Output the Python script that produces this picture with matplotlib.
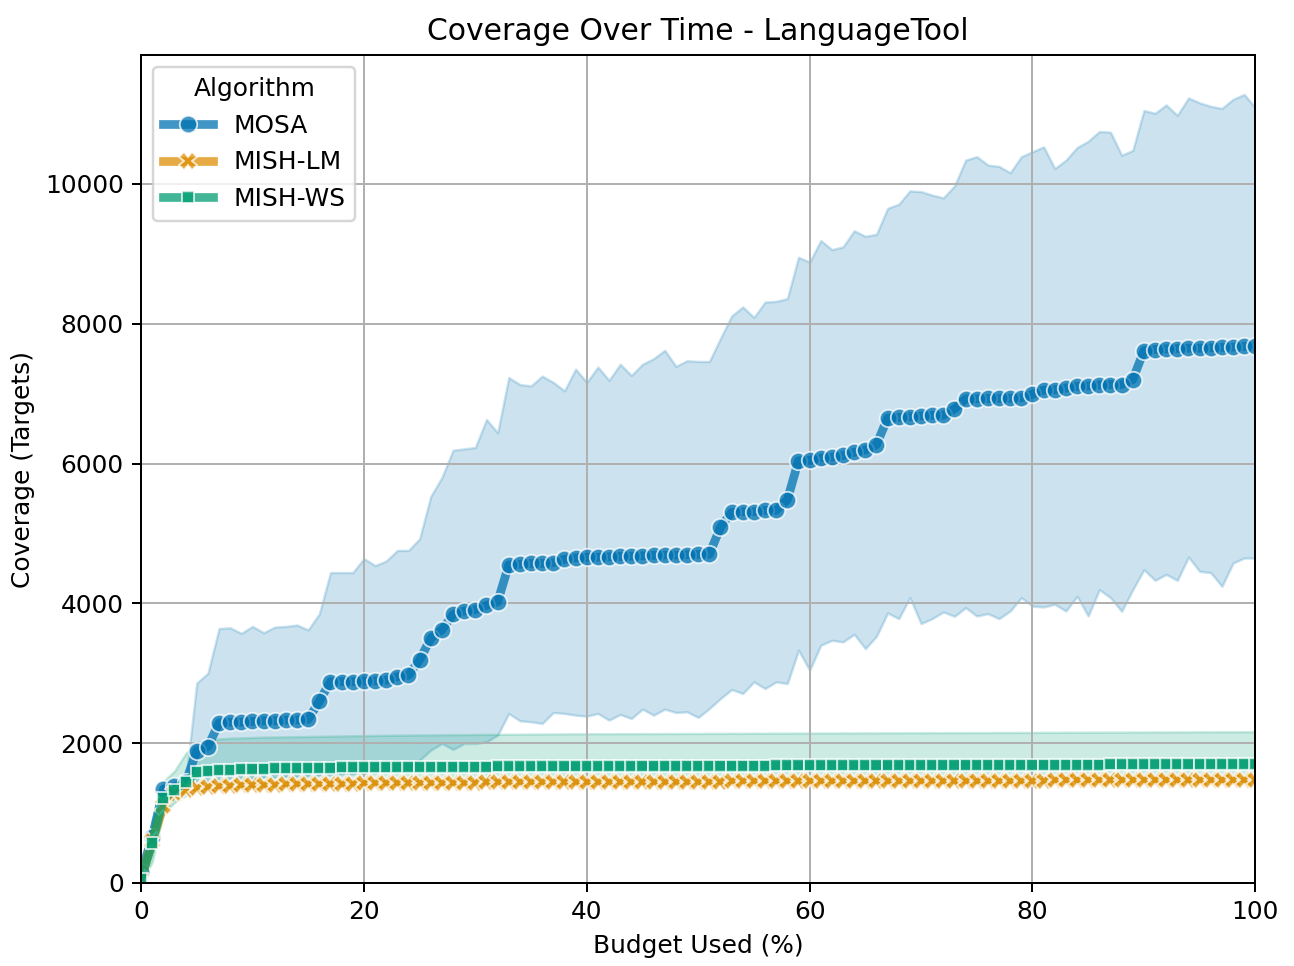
import matplotlib
matplotlib.use("Agg")
import matplotlib.pyplot as plt
import numpy as np

# budget used (%) - one sample per percent
budget = list(range(101))

algorithms = ["MOSA", "MISH-LM", "MISH-WS"]
colors = ["#0173b2", "#de8f05", "#029e73"]
markers = ["o", "X", (4, 0, 45)]

mosa_mean = [150, 650, 1340, 1380, 1440, 1890, 1950, 2290, 2300, 2300,
             2310, 2320, 2320, 2330, 2330, 2340, 2600, 2880, 2880, 2880,
             2890, 2890, 2900, 2950, 2970, 3190, 3500, 3620, 3840, 3890,
             3910, 3970, 4020, 4550, 4560, 4570, 4570, 4580, 4630, 4650,
             4660, 4660, 4665, 4670, 4675, 4680, 4685, 4690, 4690, 4695,
             4700, 4700, 5090, 5300, 5310, 5310, 5330, 5330, 5480, 6040,
             6045, 6080, 6090, 6115, 6160, 6195, 6270, 6650, 6660, 6670,
             6680, 6690, 6690, 6780, 6925, 6925, 6930, 6930, 6935, 6940,
             6990, 7050, 7055, 7080, 7105, 7110, 7125, 7130, 7130, 7200,
             7615, 7630, 7640, 7645, 7650, 7650, 7655, 7660, 7665, 7675, 7680]
mosa_hi = [200, 800, 1400, 1420, 1450, 2860, 3000, 3640, 3650, 3570,
           3670, 3580, 3660, 3670, 3690, 3620, 3850, 4440, 4440, 4440,
           4640, 4540, 4605, 4757, 4757, 4924, 5530, 5800, 6190, 6210,
           6230, 6630, 6440, 7230, 7130, 7110, 7250, 7160, 7040, 7350,
           7160, 7380, 7190, 7420, 7260, 7420, 7500, 7620, 7390, 7470,
           7460, 7460, 7790, 8110, 8240, 8090, 8310, 8320, 8360, 8950,
           8880, 9190, 9060, 9100, 9330, 9250, 9280, 9650, 9710, 9900,
           9890, 9840, 9800, 9970, 10340, 10390, 10270, 10250, 10160, 10390,
           10460, 10530, 10220, 10340, 10520, 10610, 10750, 10740, 10410, 10480,
           11050, 11010, 11130, 10980, 11230, 11160, 11110, 11080, 11210, 11280, 11090]
mosa_lo = [100, 500, 1280, 1340, 1420, 1450, 1460, 1480, 1490, 1500,
           1500, 1510, 1510, 1520, 1520, 1530, 1540, 1550, 1560, 1560,
           1570, 1580, 1600, 1620, 1650, 1757, 1900, 1995, 1910, 1995,
           1995, 2019, 2114, 2424, 2319, 2305, 2281, 2438, 2424, 2400,
           2386, 2424, 2329, 2410, 2352, 2486, 2400, 2486, 2438, 2448,
           2367, 2495, 2638, 2767, 2710, 2876, 2781, 2876, 2852, 3329,
           3043, 3400, 3471, 3448, 3557, 3352, 3529, 3862, 3781, 4081,
           3710, 3781, 3876, 3814, 3938, 3819, 3852, 3781, 3890, 4081,
           3960, 3948, 3986, 3890, 4100, 3819, 4195, 4081, 3886, 4195,
           4481, 4329, 4414, 4329, 4662, 4457, 4438, 4243, 4576, 4648, 4648]

lm_mean = [50, 600, 1100, 1290, 1330, 1360, 1375, 1385, 1390, 1395,
           1400, 1402, 1405, 1408, 1410, 1412, 1415, 1418, 1420, 1422,
           1425, 1426, 1427, 1428, 1430, 1431, 1432, 1433, 1434, 1435,
           1436, 1437, 1438, 1438, 1439, 1440, 1440, 1441, 1442, 1442,
           1443, 1444, 1444, 1445, 1446, 1446, 1447, 1447, 1448, 1448,
           1449, 1450, 1450, 1451, 1451, 1452, 1452, 1453, 1453, 1454,
           1455, 1455, 1456, 1456, 1457, 1457, 1458, 1458, 1459, 1459,
           1460, 1460, 1461, 1461, 1462, 1462, 1463, 1463, 1464, 1464,
           1465, 1465, 1466, 1466, 1466, 1467, 1467, 1467, 1468, 1468,
           1468, 1469, 1469, 1469, 1470, 1470, 1470, 1471, 1471, 1471, 1472]
lm_hi = [120, 750, 1200, 1330, 1360, 1385, 1398, 1408, 1414, 1419,
         1424, 1426, 1429, 1432, 1434, 1436, 1439, 1442, 1444, 1446,
         1449, 1450, 1451, 1452, 1454, 1455, 1456, 1457, 1458, 1459,
         1460, 1461, 1462, 1462, 1463, 1464, 1464, 1465, 1466, 1466,
         1467, 1468, 1468, 1469, 1470, 1470, 1471, 1471, 1472, 1472,
         1473, 1474, 1474, 1475, 1475, 1476, 1476, 1477, 1477, 1478,
         1479, 1479, 1480, 1480, 1481, 1481, 1482, 1482, 1483, 1483,
         1484, 1484, 1485, 1485, 1486, 1486, 1487, 1487, 1488, 1488,
         1489, 1489, 1490, 1490, 1490, 1491, 1491, 1491, 1492, 1492,
         1492, 1493, 1493, 1493, 1494, 1494, 1494, 1495, 1495, 1495, 1496]
lm_lo = [0, 450, 1000, 1250, 1300, 1335, 1352, 1362, 1366, 1371,
         1376, 1378, 1381, 1384, 1386, 1388, 1391, 1394, 1396, 1398,
         1401, 1402, 1403, 1404, 1406, 1407, 1408, 1409, 1410, 1411,
         1412, 1413, 1414, 1414, 1415, 1416, 1416, 1417, 1418, 1418,
         1419, 1420, 1420, 1421, 1422, 1422, 1423, 1423, 1424, 1424,
         1425, 1426, 1426, 1427, 1427, 1428, 1428, 1429, 1429, 1430,
         1431, 1431, 1432, 1432, 1433, 1433, 1434, 1434, 1435, 1435,
         1436, 1436, 1437, 1437, 1438, 1438, 1439, 1439, 1440, 1440,
         1441, 1441, 1442, 1442, 1442, 1443, 1443, 1443, 1444, 1444,
         1444, 1445, 1445, 1445, 1446, 1446, 1446, 1447, 1447, 1447, 1448]

ws_mean = [60, 570, 1210, 1330, 1440, 1585, 1605, 1615, 1622, 1628,
           1632, 1636, 1639, 1642, 1644, 1646, 1648, 1650, 1652, 1654,
           1655, 1656, 1657, 1658, 1659, 1660, 1661, 1662, 1663, 1664,
           1665, 1665, 1666, 1667, 1667, 1668, 1669, 1669, 1670, 1670,
           1671, 1672, 1672, 1673, 1673, 1674, 1674, 1675, 1675, 1676,
           1676, 1677, 1677, 1678, 1678, 1679, 1679, 1680, 1680, 1681,
           1681, 1682, 1682, 1683, 1683, 1684, 1684, 1685, 1685, 1686,
           1686, 1687, 1687, 1688, 1688, 1689, 1689, 1690, 1690, 1691,
           1691, 1692, 1692, 1693, 1693, 1694, 1694, 1695, 1695, 1696,
           1696, 1697, 1697, 1698, 1698, 1699, 1699, 1700, 1700, 1701, 1701]
ws_hi = [150, 900, 1450, 1600, 1850, 2010, 2040, 2060, 2070, 2075,
         2080, 2085, 2088, 2090, 2092, 2095, 2098, 2100, 2102, 2105,
         2108, 2110, 2112, 2114, 2115, 2117, 2118, 2120, 2121, 2122,
         2124, 2125, 2126, 2127, 2128, 2129, 2130, 2131, 2132, 2133,
         2134, 2135, 2134, 2136, 2135, 2137, 2136, 2138, 2137, 2139,
         2138, 2140, 2139, 2141, 2140, 2142, 2141, 2143, 2142, 2144,
         2143, 2145, 2144, 2146, 2145, 2147, 2146, 2148, 2147, 2149,
         2148, 2150, 2149, 2151, 2150, 2152, 2151, 2153, 2152, 2154,
         2153, 2155, 2154, 2156, 2155, 2157, 2156, 2158, 2157, 2159,
         2158, 2160, 2159, 2161, 2160, 2162, 2161, 2163, 2162, 2163, 2162]
ws_lo = [0, 300, 1000, 1150, 1250, 1340, 1355, 1365, 1370, 1375,
         1380, 1382, 1385, 1388, 1390, 1392, 1395, 1398, 1400, 1402,
         1405, 1406, 1407, 1408, 1410, 1411, 1412, 1413, 1414, 1415,
         1416, 1417, 1418, 1418, 1419, 1420, 1420, 1421, 1422, 1422,
         1423, 1424, 1424, 1425, 1426, 1426, 1427, 1427, 1428, 1428,
         1429, 1430, 1430, 1431, 1431, 1432, 1432, 1433, 1433, 1434,
         1435, 1435, 1436, 1436, 1437, 1437, 1438, 1438, 1439, 1439,
         1440, 1440, 1441, 1441, 1442, 1442, 1443, 1443, 1444, 1444,
         1445, 1445, 1446, 1446, 1446, 1447, 1447, 1447, 1448, 1448,
         1448, 1449, 1449, 1449, 1450, 1450, 1450, 1451, 1451, 1451, 1452]

means = [mosa_mean, lm_mean, ws_mean]
highs = [mosa_hi, lm_hi, ws_hi]
lows = [mosa_lo, lm_lo, ws_lo]

fig, ax = plt.subplots(figsize=(7.23, 5.397), dpi=179)

for name, c, m, mean, hi, lo in zip(algorithms, colors, markers, means, highs, lows):
    ax.plot(budget, mean, color=c, marker=m, markersize=7, markeredgecolor="white",
            markeredgewidth=0.75, linewidth=3.5, alpha=0.75, label=name)
    ax.fill_between(budget, lo, hi, color=c, alpha=0.2)

ax.set_xlim(0, 100)
ax.set_ylim(0, None)
ax.set_title("Coverage Over Time - LanguageTool")
ax.set_xlabel("Budget Used (%)")
ax.set_ylabel("Coverage (Targets)")
ax.grid(True)
ax.legend(title="Algorithm", loc="upper left")

plt.subplots_adjust(left=0.109, right=0.970, bottom=0.086, top=0.943)
plt.savefig("out.png")
